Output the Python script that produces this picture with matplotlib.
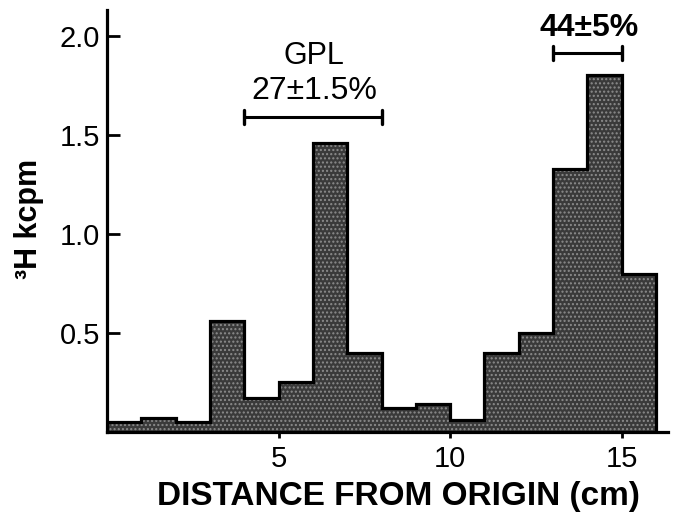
import numpy as np
import matplotlib.pyplot as plt

plt.rcParams['font.family'] = ['Liberation Sans', 'DejaVu Sans']

# bin edges (cm) and 3H counts (kcpm), one bin per cm
edges = np.arange(0, 17)
kcpm = [0.05, 0.07, 0.05, 0.56, 0.17, 0.25, 1.46, 0.40,
        0.12, 0.14, 0.06, 0.40, 0.50, 1.33, 1.80, 0.80]

xticks = [5, 10, 15]
yticks = [0.5, 1.0, 1.5, 2.0]

# labelled regions: start, end (cm) and bracket height
gpl_span = (4, 8)
gpl_bracket_y = 1.59
peak_span = (13, 15)
peak_bracket_y = 1.915

fig = plt.figure(figsize=(6.73, 5.14), dpi=100)
ax = fig.add_axes([0.159, 0.1595, 0.8336, 0.821])

# halftone-ish fill, then the step outline on top
ax.stairs(kcpm, edges, fill=True, facecolor='#3a3a3a', edgecolor='#8c8c8c',
          linewidth=0, hatch='....')
ax.stairs(kcpm, edges, baseline=0, fill=False, color='black', linewidth=2.3)

ax.set_xlim(0, 16.35)
ax.set_ylim(0, 2.13)

for s in ['top', 'right']:
    ax.spines[s].set_visible(False)
for s in ['left', 'bottom']:
    ax.spines[s].set_linewidth(2.3)
    ax.spines[s].set_capstyle('projecting')

ax.set_xticks(xticks)
ax.set_xticklabels([str(t) for t in xticks])
ax.set_yticks(yticks)
ax.set_yticklabels(['%.1f' % t for t in yticks])
ax.tick_params(axis='x', direction='out', length=4, width=2, pad=5, labelsize=21)
ax.tick_params(axis='y', direction='in', length=9.5, width=2, pad=5, labelsize=21)

ax.set_xlabel('DISTANCE FROM ORIGIN (cm)', fontsize=24, fontweight='bold')
ax.xaxis.set_label_coords(0.52, -0.117)
ax.set_ylabel('³H kcpm', fontsize=22, fontweight='bold')
ax.yaxis.set_label_coords(-0.112, 0.505)

# brackets
def bracket(x0, x1, y):
    ax.plot([x0, x1], [y, y], color='black', lw=2.2, solid_capstyle='butt')
    for x in (x0, x1):
        ax.plot([x, x], [y - 0.035, y + 0.035], color='black', lw=2.4,
                solid_capstyle='round')

bracket(*gpl_span, gpl_bracket_y)
bracket(*peak_span, peak_bracket_y)

ax.text(6.03, 1.90, 'GPL', ha='center', va='center', fontsize=22)
ax.text(6.03, 1.72, '27±1.5%', ha='center', va='center', fontsize=23)
ax.text(14.05, 2.04, '44±5%', ha='center', va='center', fontsize=23,
        fontweight='bold')

fig.savefig('out.png', dpi=100)
